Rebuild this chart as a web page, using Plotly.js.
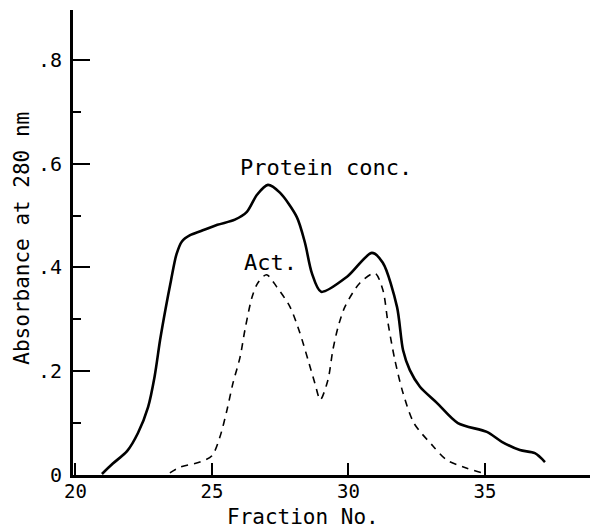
<!DOCTYPE html>
<html>
<head>
<meta charset="utf-8">
<script src="https://cdn.plot.ly/plotly-3.0.1.min.js"></script>
<style>html,body{margin:0;padding:0;background:#fff;}#chart{width:590px;height:530px;}</style>
</head>
<body>
<div id="chart"></div>
<script>
// Protein concentration (solid)
const proteinX = [20.97, 21.37, 21.89, 22.29, 22.66, 22.9, 23.1, 23.3, 23.5, 23.7, 23.9, 24.2, 24.6, 25.2, 25.84, 26.28, 26.65, 27.05, 27.49, 28.11, 28.41, 28.66, 29.0, 29.95, 30.86, 31.26, 31.78, 32.0, 32.25, 32.62, 33.24, 34.01, 35.07, 35.62, 36.28, 36.83, 37.2];
const proteinY = [0.002, 0.022, 0.046, 0.081, 0.131, 0.19, 0.26, 0.32, 0.375, 0.425, 0.45, 0.462, 0.470, 0.482, 0.492, 0.507, 0.540, 0.559, 0.544, 0.497, 0.447, 0.389, 0.353, 0.382, 0.428, 0.409, 0.324, 0.241, 0.202, 0.170, 0.139, 0.100, 0.083, 0.064, 0.048, 0.042, 0.025];
// Activity (dashed)
const actX = [23.46, 23.83, 24.56, 25.0, 25.29, 25.55, 25.77, 26.03, 26.21, 26.47, 26.68, 27.0, 27.38, 27.86, 28.22, 28.52, 28.77, 28.97, 29.25, 29.43, 29.62, 29.87, 30.42, 30.97, 31.26, 31.45, 31.7, 32.0, 32.4, 33.06, 33.6, 34.34, 34.9];
const actY = [0.004, 0.015, 0.025, 0.037, 0.073, 0.125, 0.177, 0.227, 0.280, 0.343, 0.370, 0.386, 0.362, 0.324, 0.274, 0.222, 0.177, 0.145, 0.183, 0.241, 0.285, 0.324, 0.370, 0.389, 0.357, 0.293, 0.222, 0.158, 0.100, 0.058, 0.029, 0.013, 0.004];
// Ticks
const xTickVals = [20, 25, 30, 35];
const xTickText = ["20", "25", "30", "35"];
const yTickVals = [0, 0.2, 0.4, 0.6, 0.8];
const yTickText = ["0", ".2", ".4", ".6", ".8"];
const yMinorVals = [0.1, 0.3, 0.5, 0.7];

const FONT = "DejaVu Sans Mono";

const traces = [
  {x: proteinX, y: proteinY, mode: "lines", line: {color: "#000", width: 2.6, shape: "spline", smoothing: 0.8}, hoverinfo: "skip"},
  {x: actX, y: actY, mode: "lines", line: {color: "#000", width: 1.6, dash: "7px,6px", shape: "spline", smoothing: 0.8}, hoverinfo: "skip"}
];

const layout = {
  width: 590, height: 530,
  margin: {l: 73, r: 0, t: 10, b: 55},
  paper_bgcolor: "#fff", plot_bgcolor: "#fff",
  showlegend: false,
  font: {family: FONT, color: "#000", size: 19},
  xaxis: {
    range: [19.91, 38.85], showgrid: false, zeroline: false,
    showline: true, linecolor: "#000", linewidth: 2.5,
    ticks: "inside", ticklen: 12, tickwidth: 2, tickcolor: "#000",
    tickvals: xTickVals, ticktext: xTickText,
    tickfont: {family: FONT, size: 19, color: "#000"},
    ticklabelstandoff: -2
  },
  yaxis: {
    range: [0, 0.896], showgrid: false, zeroline: false,
    showline: true, linecolor: "#000", linewidth: 3,
    ticks: "inside", ticklen: 17, tickwidth: 2, tickcolor: "#000",
    tickvals: yTickVals, ticktext: yTickText,
    tickfont: {family: FONT, size: 20, color: "#000"},
    ticklabelstandoff: 4,
    minor: {tickvals: yMinorVals, ticks: "inside", ticklen: 8, tickwidth: 2, tickcolor: "#000"}
  },
  annotations: [
    {xref: "paper", yref: "paper", x: 0.445, y: -0.09, text: "Fraction No.", showarrow: false, xanchor: "center", yanchor: "middle", font: {family: FONT, size: 21, color: "#000"}},
    {xref: "paper", yref: "paper", x: -0.099, y: 0.51, text: "Absorbance at 280 nm", textangle: -90, showarrow: false, xanchor: "center", yanchor: "middle", font: {family: FONT, size: 21, color: "#000"}},
    {xref: "paper", yref: "paper", x: 0.319, y: 0.662, text: "Protein conc.", showarrow: false, xanchor: "left", yanchor: "middle", font: {family: FONT, size: 22, color: "#000"}},
    {xref: "paper", yref: "paper", x: 0.327, y: 0.458, text: "Act.", showarrow: false, xanchor: "left", yanchor: "middle", font: {family: FONT, size: 22, color: "#000"}}
  ]
};

Plotly.newPlot("chart", traces, layout, {staticPlot: true, displayModeBar: false});
</script>
</body>
</html>
